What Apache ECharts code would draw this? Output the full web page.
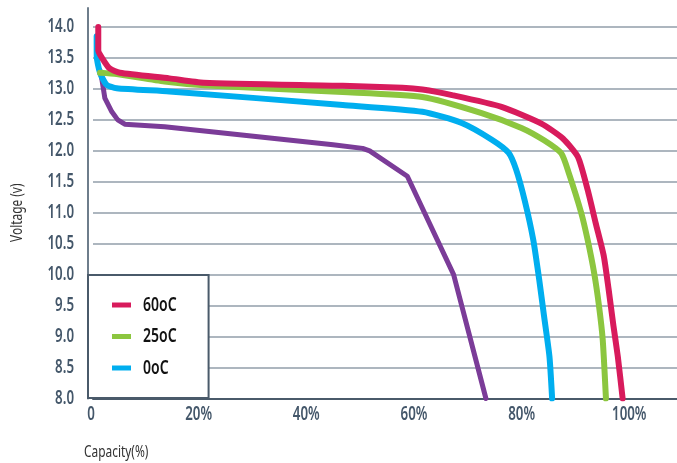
<!DOCTYPE html>
<html><head><meta charset="utf-8">
<script src="https://cdn.jsdelivr.net/npm/echarts@6/dist/echarts.min.js"></script>
<style>html,body{margin:0;padding:0;background:#fff}#c{width:677px;height:463px}</style>
</head><body><div id="c"></div>
<script>
// Narrow (condensed-looking) text: horizontally compress canvas text glyphs.
(function () {
  const S = 0.7;
  const P = CanvasRenderingContext2D.prototype;
  const ft = P.fillText, st = P.strokeText, mt = P.measureText;
  P.fillText = function (t, x, y) { this.save(); this.translate(x, y); this.scale(S, 1); ft.call(this, t, 0, 0); this.restore(); };
  P.strokeText = function (t, x, y) { this.save(); this.translate(x, y); this.scale(S, 1); st.call(this, t, 0, 0); this.restore(); };
  P.measureText = function (t) {
    const m = mt.call(this, t);
    return { width: m.width * S,
      actualBoundingBoxAscent: m.actualBoundingBoxAscent, actualBoundingBoxDescent: m.actualBoundingBoxDescent,
      actualBoundingBoxLeft: m.actualBoundingBoxLeft * S, actualBoundingBoxRight: m.actualBoundingBoxRight * S,
      fontBoundingBoxAscent: m.fontBoundingBoxAscent, fontBoundingBoxDescent: m.fontBoundingBoxDescent };
  };
})();

const FONT = '"Noto Sans","Liberation Sans",sans-serif';
const xTicks = [0, 20, 40, 60, 80, 100];
const yTicks = ['8.0','8.5','9.0','9.5','10.0','10.5','11.0','11.5','12.0','12.5','13.0','13.5','14.0'];
const legendNames = ['60oC', '25oC', '0oC'];
const red60 = [[0.98,14.0],[0.98,13.62],[1.9,13.47],[3.1,13.33],[5.0,13.26],[14.2,13.17],[20.6,13.1],[46.4,13.05],[57.5,13.02],[61.2,12.99],[66.7,12.9],[75.9,12.71],[83.3,12.44],[87.3,12.2],[90.1,11.9],[91.9,11.37],[93.4,10.83],[94.9,10.3],[95.8,9.76],[96.7,9.17],[97.5,8.68],[98.4,8.0]];
const green25 = [[1.3,13.26],[4.4,13.24],[13.3,13.12],[20.6,13.06],[46.4,12.95],[61.2,12.87],[72.2,12.61],[79.6,12.37],[83.8,12.17],[87.0,11.96],[88.4,11.64],[90.7,11.0],[91.9,10.56],[93.1,10.03],[94.0,9.5],[94.7,8.95],[95.3,8.0]];
const blue0 = [[0.68,13.85],[0.7,13.52],[1.3,13.26],[2.5,13.07],[4.4,13.01],[14.2,12.96],[46.4,12.74],[61.2,12.63],[68.5,12.45],[74.1,12.18],[77.2,11.97],[78.6,11.7],[80.2,11.2],[81.8,10.56],[82.9,9.92],[83.8,9.33],[84.8,8.68],[85.3,8.0]];
const purpleCold = [[1.3,13.3],[1.66,13.15],[2.2,12.85],[3.5,12.63],[4.6,12.5],[5.9,12.43],[13.3,12.39],[44.6,12.1],[50.1,12.04],[51.4,12.0],[58.4,11.59],[67.0,10.0],[73.0,8.0]];

const chart = echarts.init(document.getElementById('c'));
const lineSeries = (name, data, color, w, smooth) => ({
  name, type: 'line', data, showSymbol: false, symbol: 'none', smooth,
  lineStyle: { color, width: w, cap: 'round', join: 'round' }, itemStyle: { color },
  xAxisIndex: 0, yAxisIndex: 0, z: 3
});
chart.setOption({
  animation: false,
  title: { text: 'Capacity(%)', left: 84, top: 443, padding: 0,
    textStyle: { fontFamily: FONT, fontSize: 17, lineHeight: 18, fontWeight: 'normal', color: '#333' } },
  grid: [
    { left: 88, right: 0, top: 27, bottom: 64.5 },
    { left: 88, right: 0, top: 8, bottom: 64.5 }
  ],
  legend: {
    data: legendNames, orient: 'vertical', left: 88, top: 275,
    padding: [20, 32, 20, 24], itemGap: 11.5, itemWidth: 19, itemHeight: 5, icon: 'rect',
    backgroundColor: '#fff', borderColor: '#4a5a6a', borderWidth: 2, borderRadius: 0,
    textStyle: { fontFamily: FONT, fontSize: 20, lineHeight: 20, fontWeight: 600, color: '#111', padding: [0,0,0,7] },
    selectedMode: false, z: 10
  },
  xAxis: [
    { type: 'value', gridIndex: 0, min: 0, max: 108.5, interval: 20,
      axisLine: { show: true, lineStyle: { color: '#4a5a6a', width: 2 } },
      axisTick: { show: false }, splitLine: { show: false },
      axisLabel: { margin: 7, fontFamily: FONT, fontSize: 19, lineHeight: 19, fontWeight: 600, color: '#44576a', padding: [0,4,0,0],
        formatter: v => xTicks.includes(v) ? (v === 0 ? '0' : v + '%') : '' , showMaxLabel: false } },
    { type: 'value', gridIndex: 1, min: 0, max: 1, show: false }
  ],
  yAxis: [
    { type: 'value', gridIndex: 0, min: 8, max: 14, interval: 0.5,
      name: 'Voltage (v)', nameLocation: 'middle', nameGap: 67, nameRotate: 90,
      nameTextStyle: { fontFamily: FONT, fontSize: 17, lineHeight: 18, color: '#333' },
      axisLine: { show: false }, axisTick: { show: false },
      splitLine: { show: true, lineStyle: { color: '#929eaa', width: 1.6 } },
      axisLabel: { margin: 19, fontFamily: FONT, fontSize: 19, lineHeight: 19, fontWeight: 600, color: '#44576a',
        formatter: v => yTicks[Math.round((v - 8) / 0.5)] } },
    { type: 'value', gridIndex: 1, min: 0, max: 1,
      axisLine: { show: true, onZero: false, lineStyle: { color: '#6e7d8b', width: 2 } },
      axisTick: { show: false }, axisLabel: { show: false }, splitLine: { show: false } }
  ],
  series: [
    lineSeries('-20oC', purpleCold, '#7b3c98', 5, false),
    lineSeries('0oC', blue0, '#00aeef', 6, 0.2),
    lineSeries('25oC', green25, '#8cc63f', 6, 0.2),
    lineSeries('60oC', red60, '#d81b5c', 6, 0.2)
  ]
});
</script></body></html>
